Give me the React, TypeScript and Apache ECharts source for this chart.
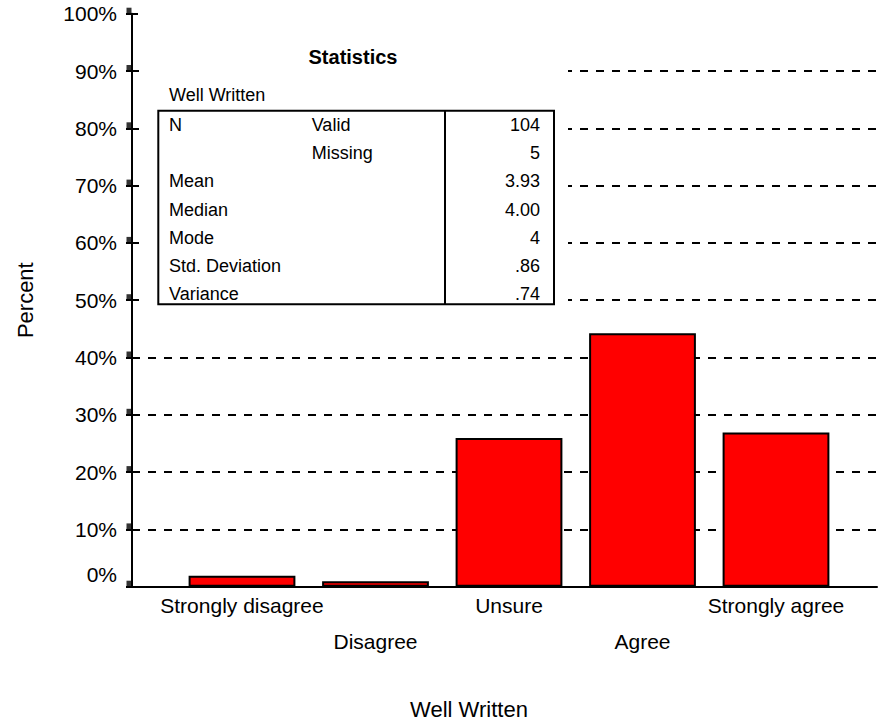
import React, { useEffect, useRef } from "react";
import * as echarts from "echarts";

const categories = ["Strongly disagree", "Disagree", "Unsure", "Agree", "Strongly agree"];
const percents = [1.92, 0.96, 25.96, 44.23, 26.92];
const yTicks = [0, 10, 20, 30, 40, 50, 60, 70, 80, 90, 100];

const statTitle = "Statistics";
const statVariable = "Well Written";
const statRowLabels = ["N", "", "Mean", "Median", "Mode", "Std. Deviation", "Variance"];
const statSubLabels = ["Valid", "Missing", "", "", "", "", ""];
const statValues = ["104", "5", "3.93", "4.00", "4", ".86", ".74"];

const FONT = "'Liberation Sans', Arial, sans-serif";

export default function App() {
  const ref = useRef<HTMLDivElement>(null);
  useEffect(() => {
    if (!ref.current) return;
    const chart = echarts.init(ref.current, null, { renderer: "svg" });

    const gridTop = 13.7;
    const gridBottom = 723 - 586.7;
    const black = "#000";

    const rowY0 = 125;
    const rowStep = 28.2;
    const tableText: any[] = [];
    statRowLabels.forEach((t, i) => {
      const y = rowY0 + i * rowStep;
      if (t) tableText.push({ type: "text", x: 169, y, z: 101, style: { text: t, fontSize: 18, fontFamily: FONT, fill: black, align: "left", verticalAlign: "middle" } });
      if (statSubLabels[i]) tableText.push({ type: "text", x: 311.7, y, z: 101, style: { text: statSubLabels[i], fontSize: 18, fontFamily: FONT, fill: black, align: "left", verticalAlign: "middle" } });
      tableText.push({ type: "text", x: 540, y, z: 101, style: { text: statValues[i], fontSize: 18, fontFamily: FONT, fill: black, align: "right", verticalAlign: "middle" } });
    });

    const option: any = {
      animation: false,
      textStyle: { fontFamily: FONT },
      grid: [
        { left: 132, right: 2, top: gridTop, bottom: gridBottom, containLabel: false, outerBoundsMode: "none" },
        { left: 175.25, right: 36.25, top: gridTop, bottom: gridBottom, containLabel: false, outerBoundsMode: "none" },
      ],
      xAxis: [
        {
          gridIndex: 0, type: "value", min: 0, max: 1,
          axisLine: { show: true, onZero: false, lineStyle: { color: black, width: 2 } },
          axisTick: { show: false }, axisLabel: { show: false }, splitLine: { show: false },
        },
        {
          gridIndex: 1, type: "category", data: categories,
          axisLine: { show: false }, axisTick: { show: false }, splitLine: { show: false },
          axisLabel: {
            interval: 0, margin: 1, fontSize: 21, color: black, lineHeight: 36, fontFamily: FONT,
            formatter: (v: string, i: number) => (i % 2 ? "\n" + v : v),
          },
        },
      ],
      yAxis: [
        {
          gridIndex: 0, type: "value", position: "left", min: 0, max: 100, interval: 10,
          axisLine: { show: true, lineStyle: { color: black, width: 2 } },
          axisTick: { show: true, length: 6, lineStyle: { color: black, width: 2 } },
          axisLabel: {
            margin: 15, fontSize: 21, color: black, fontFamily: FONT,
            formatter: (v: number) => (v === 0 ? "{lo|0%}" : v + "%"),
            rich: { lo: { fontSize: 21, color: black, fontFamily: FONT, padding: [0, 0, 24, 0] } },
          },
          splitLine: { show: true, showMinLine: false, showMaxLine: false, lineStyle: { color: black, width: 2, type: [8, 8] } },
          name: "Percent", nameLocation: "middle", nameGap: 96,
          nameTextStyle: { fontSize: 22, color: black, fontFamily: FONT },
        },
        {
          gridIndex: 0, type: "value", position: "left", min: 0, max: 100, interval: 10,
          axisLine: { show: false },
          axisTick: { show: true, inside: true, length: 6, lineStyle: { color: black, width: 2 } },
          axisLabel: { show: false }, splitLine: { show: false },
        },
        { gridIndex: 1, type: "value", min: 0, max: 100, show: false, splitLine: { show: false } },
      ],
      series: [
        {
          type: "bar", xAxisIndex: 1, yAxisIndex: 2, data: percents, barWidth: "80%", z: 5,
          itemStyle: { color: "#ff0000", borderColor: black, borderWidth: 2 },
        },
        {
          type: "scatter", xAxisIndex: 0, yAxisIndex: 0, data: yTicks.map((v) => [0, v]),
          symbol: "rect", symbolSize: [5, 6], symbolOffset: [-3, -3], clip: false, silent: true, z: 6,
          itemStyle: { color: black },
        },
      ],
      graphic: [
        { type: "rect", z: 100, shape: { x: 139, y: 30, width: 429, height: 285 }, style: { fill: "#fff" } },
        { type: "rect", z: 101, shape: { x: 158.3, y: 110.7, width: 395.7, height: 193.6 }, style: { fill: "none", stroke: black, lineWidth: 2 } },
        { type: "line", z: 101, shape: { x1: 445, y1: 110.7, x2: 445, y2: 304.3 }, style: { stroke: black, lineWidth: 2 } },
        { type: "text", x: 353, y: 57, z: 101, style: { text: statTitle, fontSize: 20, fontWeight: "bold", fontFamily: FONT, fill: black, align: "center", verticalAlign: "middle" } },
        { type: "text", x: 169, y: 95, z: 101, style: { text: statVariable, fontSize: 18, fontFamily: FONT, fill: black, align: "left", verticalAlign: "middle" } },
        ...tableText,
        { type: "text", x: 469, y: 709, z: 101, style: { text: "Well Written", fontSize: 22, fontFamily: FONT, fill: black, align: "center", verticalAlign: "middle" } },
      ],
    };
    chart.setOption(option);
    return () => chart.dispose();
  }, []);
  return <div ref={ref} style={{ position: "fixed", left: 0, top: 0, width: 879, height: 723, background: "#fff" }} />;
}
